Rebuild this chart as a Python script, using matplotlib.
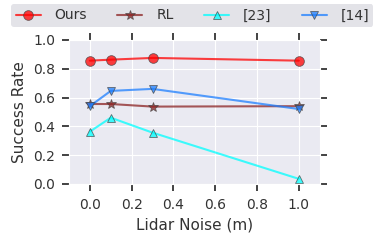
import numpy as np
import matplotlib
matplotlib.use("Agg")
import matplotlib.pyplot as plt
import seaborn as sns

sns.set_style("darkgrid")

noise = [0.0, 0.1, 0.3, 1.0]
ours = [0.856, 0.863, 0.875, 0.856]
rl = [0.555, 0.555, 0.537, 0.54]
ref23 = [0.363, 0.46, 0.356, 0.035]
ref14 = [0.54, 0.646, 0.66, 0.52]

fig = plt.figure(figsize=(3.83, 2.42), dpi=100)
ax = fig.add_axes([0.18, 0.24, 0.655, 0.595])

ax.plot(noise, ours, '-o', color='red', mec='#444444', mew=0.6, ms=7, lw=1.5, alpha=0.75, label='Ours')
ax.plot(noise, rl, '-*', color='#8b2323', mec='#444444', mew=0.6, ms=7, lw=1.5, alpha=0.75, label='RL')
ax.plot(noise, ref23, '-^', color='cyan', mec='#444444', mew=0.6, ms=6, lw=1.5, alpha=0.75, label='[23]')
ax.plot(noise, ref14, '-v', color='#1e7fff', mec='#444444', mew=0.6, ms=6, lw=1.5, alpha=0.75, label='[14]')

ax.set_xlim(-0.1, 1.1)
ax.set_ylim(0.0, 1.0)
ax.set_xticks([0.0, 0.2, 0.4, 0.6, 0.8, 1.0])
ax.set_yticks([0.0, 0.2, 0.4, 0.6, 0.8, 1.0])
ax.set_xlabel('Lidar Noise (m)', fontsize=11, color='#333333')
ax.set_ylabel('Success Rate', fontsize=11, color='#333333')

leg = fig.legend(loc='lower left', bbox_to_anchor=(0.03, 0.89, 0.945, 0.1), mode='expand',
                 ncol=4, fontsize=10, frameon=True, handlelength=1.8, borderaxespad=0,
                 handletextpad=1.0, columnspacing=1.0, borderpad=0.3)
leg.get_frame().set_facecolor('#e3e3e8')
leg.get_frame().set_edgecolor('none')
leg.get_frame().set_alpha(1)
for t in leg.get_texts():
    t.set_color('#333333')

# ticks on all four sides, pointing out
ax.xaxis.set_ticks_position('both')
ax.yaxis.set_ticks_position('both')
ax.tick_params(direction='out', length=5, width=1.2, color='#222222', pad=5,
               labelsize=10, labelcolor='#333333', top=True, right=True,
               labeltop=False, labelright=False)
for t in ax.xaxis.get_major_ticks():
    t.tick2line.set_visible(True)

fig.savefig('out.png', dpi=100)
